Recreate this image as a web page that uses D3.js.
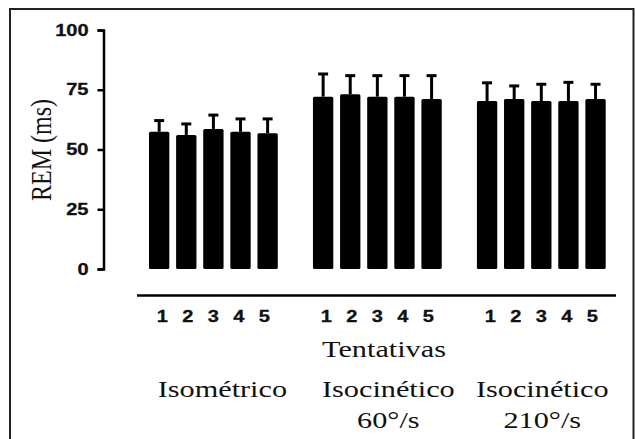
<!DOCTYPE html>
<html>
<head>
<meta charset="utf-8">
<script src="https://cdn.jsdelivr.net/npm/d3@7"></script>
<style>
  html, body { margin: 0; padding: 0; background: #fff; }
  svg { display: block; }
</style>
</head>
<body>
<svg id="chart" width="635" height="439"></svg>
<script>
// ---- data ----
const groups = ["Isométrico", "Isocinético 60°/s", "Isocinético 210°/s"];
const groupLines = [["Isométrico"], ["Isocinético", "60°/s"], ["Isocinético", "210°/s"]];
const trials = ["1", "2", "3", "4", "5"];
const meanIsometrico = [57.4, 56.1, 58.6, 57.4, 56.8];
const meanIso60 = [72.1, 73.1, 72.1, 72.1, 71.1];
const meanIso210 = [70.3, 71.1, 70.3, 70.3, 71.1];
const upperIsometrico = [62.1, 60.7, 64.4, 62.8, 62.8];
const upperIso60 = [81.6, 80.9, 80.9, 80.9, 80.9];
const upperIso210 = [77.9, 76.6, 77.3, 78.1, 77.3];
const yTicks = [0, 25, 50, 75, 100];
const yLabel = "REM (ms)";
const xLabel = "Tentativas";

const means = [meanIsometrico, meanIso60, meanIso210];
const uppers = [upperIsometrico, upperIso60, upperIso210];
const rows = [];
groups.forEach((g, gi) => trials.forEach((t, ti) => rows.push({g, t, v: means[gi][ti], u: uppers[gi][ti]})));

// ---- layout ----
const svg = d3.select("#chart");
const SX = 1.3; // horizontal stretch of the reference text
const sans = "'Liberation Sans', Arial, sans-serif";
const serif = "'Liberation Serif', 'Times New Roman', serif";

svg.append("rect").attr("x", 10).attr("y", 9).attr("width", 623.5).attr("height", 440)
  .attr("fill", "none").attr("stroke", "#222").attr("stroke-width", 2);

const y = d3.scaleLinear().domain([0, 100]).range([269, 30]);
const x0 = d3.scaleBand().domain(groups).range([149, 605.7]).paddingInner(0.2145).paddingOuter(0);
const x1 = d3.scaleBand().domain(trials).range([0, x0.bandwidth()]).paddingInner(0.25).paddingOuter(0);

// y axis
const yAxis = svg.append("g").attr("transform", "translate(103.5,0)")
  .call(d3.axisLeft(y).tickValues(yTicks).tickSize(6).tickPadding(6));
yAxis.attr("font-family", null).attr("font-size", null);
yAxis.select(".domain").attr("stroke", "#000").attr("stroke-width", 2.5);
yAxis.selectAll(".tick line").attr("stroke", "#000").attr("stroke-width", 2.5);
yAxis.selectAll(".tick text")
  .style("font-family", sans).style("font-weight", "bold").style("font-size", "16px")
  .attr("fill", "#111").attr("stroke", "#111").attr("stroke-width", 0.3)
  .attr("transform", `scale(1.25,1)`);

// bars
const barG = svg.append("g");
barG.selectAll("rect.bar").data(rows).join("rect")
  .attr("class", "bar")
  .attr("x", d => x0(d.g) + x1(d.t))
  .attr("y", d => y(d.v))
  .attr("width", x1.bandwidth())
  .attr("height", d => y(0) - y(d.v))
  .attr("rx", 1.5)
  .attr("fill", "#000");

// error bars
const cx = d => x0(d.g) + x1(d.t) + x1.bandwidth() / 2;
barG.selectAll("line.err").data(rows).join("line")
  .attr("class", "err")
  .attr("x1", cx).attr("x2", cx)
  .attr("y1", d => y(d.v)).attr("y2", d => y(d.u))
  .attr("stroke", "#000").attr("stroke-width", 3);
barG.selectAll("line.cap").data(rows).join("line")
  .attr("class", "cap")
  .attr("x1", d => cx(d) - 5).attr("x2", d => cx(d) + 5)
  .attr("y1", d => y(d.u)).attr("y2", d => y(d.u))
  .attr("stroke", "#000").attr("stroke-width", 3);

// bottom line
svg.append("line").attr("x1", 137).attr("x2", 616).attr("y1", 295.5).attr("y2", 295.5)
  .attr("stroke", "#000").attr("stroke-width", 2.5);

// trial labels
const labelX = d => {
  const gc = x0(d.g) + x0.bandwidth() / 2;
  return gc + (cx(d) - gc) * 0.94;
};
svg.append("g").selectAll("text").data(rows).join("text")
  .attr("transform", d => `translate(${labelX(d)},321.5) scale(1.25,1)`)
  .attr("text-anchor", "middle")
  .style("font-family", sans).style("font-weight", "bold").style("font-size", "16px")
  .attr("fill", "#111").attr("stroke", "#111").attr("stroke-width", 0.3)
  .text(d => d.t);

// x label
svg.append("text")
  .attr("transform", `translate(384,357) scale(${SX * 0.97},1)`)
  .attr("text-anchor", "middle").style("font-family", serif).style("font-size", "24px").attr("fill", "#111")
  .text(xLabel);

// group labels
const gOffsets = [9, 11, 1];
groups.forEach((g, gi) => {
  const gc = x0(g) + x0.bandwidth() / 2 + gOffsets[gi];
  groupLines[gi].forEach((line, li) => {
    svg.append("text")
      .attr("transform", `translate(${gc},${397 + li * 31}) scale(${SX * 0.97},1)`)
      .attr("text-anchor", "middle").style("font-family", serif).style("font-size", "24px").attr("fill", "#111")
      .text(line);
  });
});

// y label
svg.append("text")
  .attr("transform", `translate(41,150) rotate(-90) scale(1,${SX * 0.97})`)
  .attr("text-anchor", "middle").attr("dominant-baseline", "central")
  .style("font-family", serif).style("font-size", "24px").attr("fill", "#111")
  .text(yLabel);
</script>
</body>
</html>
